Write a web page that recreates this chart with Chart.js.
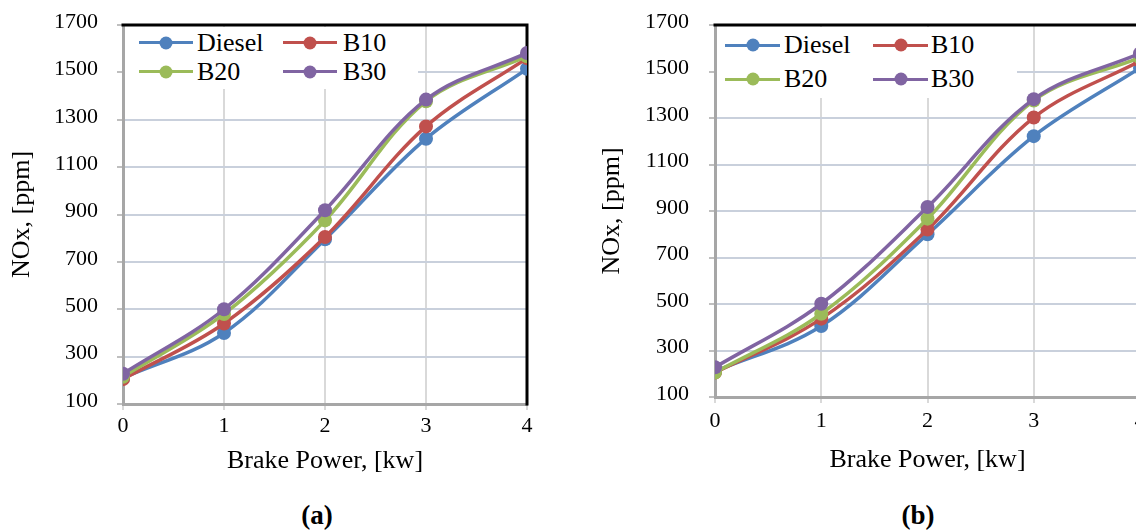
<!DOCTYPE html>
<html>
<head>
<meta charset="utf-8">
<script src="https://cdn.jsdelivr.net/npm/chart.js"></script>
<style>
    html, body { margin: 0; padding: 0; width: 1136px; height: 530px; overflow: hidden; background: #fff; }
    body { position: relative; font-family: "Liberation Serif", "Times New Roman", serif; color: #000; }
    .box { position: absolute; }
    .legend { position: absolute; background: #fff; }
    .mk { position: absolute; height: 3px; }
    .mk div { position: absolute; left: 50%; top: 50%; width: 13px; height: 13px; border-radius: 50%; transform: translate(-50%, -50%); }
    .lbl { position: absolute; font-family: "Liberation Serif", serif; font-size: 26px; line-height: 30px; white-space: nowrap; }
    .cap { position: absolute; width: 100px; text-align: center; font-weight: bold; font-size: 27px; line-height: 30px; }
</style>
</head>
<body>
<div class="box" style="left:0;top:0;width:560px;height:490px"><canvas id="chartA"></canvas></div>
<div class="box" style="left:580px;top:0;width:600px;height:490px"><canvas id="chartB"></canvas></div>
<div class="cap" style="left:267px;top:500px">(a)</div>
<div class="cap" style="left:868px;top:500px">(b)</div>
<script>
// x categories and y tick labels
const brakePower = [0, 1, 2, 3, 4]
const yTicks = [100, 300, 500, 700, 900, 1100, 1300, 1500, 1700]
const seriesNames = ['Diesel', 'B10', 'B20', 'B30']
const seriesColors = ['#4F81BD', '#C0504D', '#9BBB59', '#8064A2']

// (a) NOx, ppm
const dieselA = [210, 400, 795, 1220, 1515]
const b10A = [205, 440, 805, 1272, 1560]
const b20A = [215, 480, 875, 1378, 1568]
const b30A = [228, 500, 918, 1385, 1582]

// (b) NOx, ppm
const dieselB = [210, 405, 800, 1222, 1515]
const b10B = [205, 437, 820, 1302, 1545]
const b20B = [205, 458, 867, 1375, 1560]
const b30B = [228, 501, 917, 1381, 1578]

Chart.defaults.font.family = '"Liberation Serif", "Times New Roman", serif'
Chart.defaults.color = '#000'

// black frame on top and right side of the plot
const framePlugin = {
    id: 'frame',
    beforeDatasetsDraw(chart) {
        let ctx = chart.ctx
        let a = chart.chartArea
        ctx.save()
        ctx.strokeStyle = '#000'
        ctx.lineWidth = 3
        ctx.beginPath()
        ctx.moveTo(a.left - 1.5, a.top)
        ctx.lineTo(a.right, a.top)
        ctx.lineTo(a.right, a.bottom + 1.5)
        ctx.stroke()
        ctx.restore()
    }
}

/**
 * @function initChart
 * @description 畫一張 NOx 圖
 * @param id - canvas id
 * @param rows - 各系列資料
 * @param lay - 版面設定
*/
function initChart(id, rows, lay) {

    let datasets = rows.map((row, i) => ({
        label: seriesNames[i],
        data: brakePower.map((x, j) => ({ x: x, y: row[j] })),
        borderColor: seriesColors[i],
        backgroundColor: seriesColors[i],
        borderWidth: 3.5,
        pointRadius: 7,
        pointBorderWidth: 0,
        pointHoverRadius: 7,
        tension: 0.35,
        order: seriesNames.length - i
    }))

    new Chart(document.getElementById(id), {
        type: 'line',
        data: { datasets: datasets },
        plugins: [framePlugin],
        options: {
            animation: false,
            responsive: true,
            maintainAspectRatio: false,
            devicePixelRatio: 1,
            layout: { padding: { left: 0, top: 25, right: lay.padRight, bottom: 0 } },
            plugins: { legend: { display: false }, tooltip: { enabled: false } },
            scales: {
                x: {
                    type: 'linear',
                    min: brakePower[0],
                    max: brakePower[brakePower.length - 1],
                    afterFit: (s) => { s.height = lay.xHeight },
                    ticks: { stepSize: 1, padding: lay.xTickPad, font: { size: 22 }, maxRotation: 0 },
                    grid: { color: '#D9D9D9', lineWidth: 2, tickLength: 6 },
                    border: { color: '#A6A6A6', width: 3 },
                    title: { display: true, text: 'Brake Power, [kw]', font: { size: 26 }, padding: { top: 0, bottom: lay.xTitlePad } }
                },
                y: {
                    min: yTicks[0],
                    max: yTicks[yTicks.length - 1],
                    afterFit: (s) => {
                        s.width = lay.yWidth
                        s.paddingTop = 0
                        s.paddingBottom = 0
                    },
                    afterBuildTicks: (s) => { s.ticks = yTicks.map(v => ({ value: v })) },
                    ticks: { padding: lay.yTickPad, labelOffset: -3, font: { size: 22 }, callback: (v) => String(v) },
                    grid: { color: '#C9D0DC', lineWidth: 2, tickLength: 6, tickColor: '#BFBFBF' },
                    border: { color: '#A6A6A6', width: 3 },
                    title: { display: true, text: 'NOx, [ppm]', font: { size: 26 }, padding: { top: lay.yTitlePad, bottom: 0 } }
                }
            }
        }
    })
}

/**
 * @function buildLegend
 * @description 圖內左上角的圖例
*/
function buildLegend(spec) {

    let box = document.createElement('div')
    box.className = 'legend'
    box.style.cssText = `left:${spec.left}px;top:${spec.top}px;width:${spec.width}px;height:${spec.height}px`

    seriesNames.forEach((name, i) => {
        let col = i % 2
        let row = Math.floor(i / 2)
        let cy = spec.rows[row]

        let mk = document.createElement('div')
        mk.className = 'mk'
        mk.style.cssText = `left:${spec.markX[col]}px;top:${cy - 1.5}px;width:${spec.markW}px;background:${seriesColors[i]}`
        let dot = document.createElement('div')
        dot.style.background = seriesColors[i]
        mk.appendChild(dot)
        box.appendChild(mk)

        let lbl = document.createElement('span')
        lbl.className = 'lbl'
        lbl.textContent = name
        lbl.style.cssText = `left:${spec.textX[col]}px;top:${cy - 15}px`
        box.appendChild(lbl)
    })

    document.body.appendChild(box)
}

initChart('chartA', [dieselA, b10A, b20A, b30A],
    { padRight: 33, xHeight: 86, yWidth: 123, xTickPad: 3, yTickPad: 19, xTitlePad: 13, yTitlePad: 7 })
initChart('chartB', [dieselB, b10B, b20B, b30B],
    { padRight: 40, xHeight: 93, yWidth: 135, xTickPad: 5, yTickPad: 20, xTitlePad: 14, yTitlePad: 17 })

buildLegend({ left: 125, top: 27, width: 293, height: 62, rows: [15.7, 44.7], markX: [14, 158], textX: [72, 218], markW: 54 })
buildLegend({ left: 717, top: 27, width: 300, height: 71, rows: [18, 52.3], markX: [8, 156], textX: [67, 214], markW: 55 })
</script>
</body>
</html>
